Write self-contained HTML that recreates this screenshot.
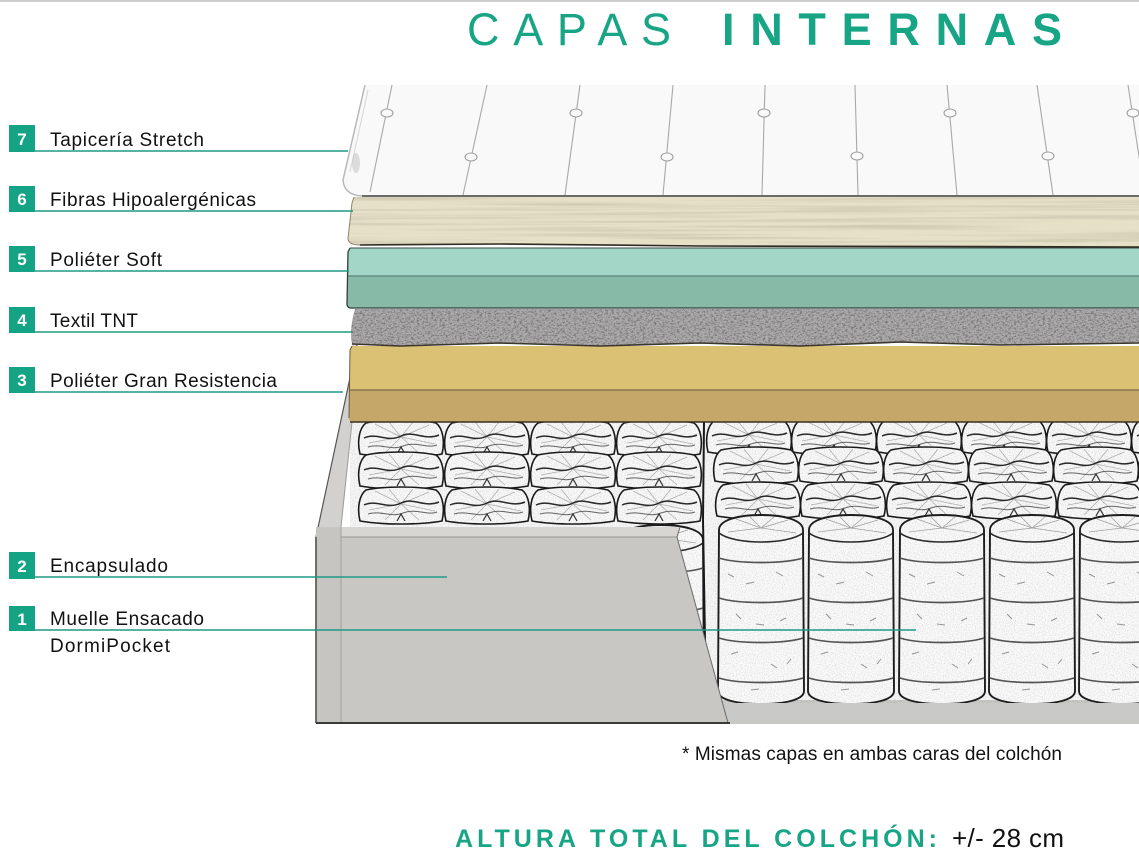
<!DOCTYPE html>
<html><head><meta charset="utf-8"><style>
html,body{margin:0;padding:0;background:#fff;}
svg{display:block;}
text{font-family:"Liberation Sans",sans-serif;}
</style></head><body>
<svg width="1139" height="854" viewBox="0 0 1139 854" xmlns="http://www.w3.org/2000/svg">
<defs>
  <filter id="nz" x="0" y="0" width="100%" height="100%">
    <feTurbulence type="fractalNoise" baseFrequency="0.9" numOctaves="2" seed="4"/>
    <feColorMatrix type="matrix" values="0 0 0 0 0  0 0 0 0 0  0 0 0 0 0  2.2 0 0 0 -0.95"/>
  </filter>
  <filter id="nz2" x="0" y="0" width="100%" height="100%">
    <feTurbulence type="fractalNoise" baseFrequency="0.35 0.6" numOctaves="3" seed="9"/>
    <feColorMatrix type="matrix" values="0 0 0 0 0.1  0 0 0 0 0.1  0 0 0 0 0.1  3 0 0 0 -1.35"/>
  </filter>
  <filter id="grain" x="0" y="0" width="100%" height="100%">
    <feTurbulence type="fractalNoise" baseFrequency="0.004 0.35" numOctaves="2" seed="2"/>
    <feColorMatrix type="matrix" values="0 0 0 0 0.55  0 0 0 0 0.5  0 0 0 0 0.38  2.4 0 0 0 -1.05"/>
  </filter>
  <clipPath id="cTex"><path d="M355,309 L1139,309 L1139,343 L1000,345 L900,342 L800,346 L700,343 L600,346 L500,343 L400,346 L352,344 Q349,330 355,309 Z"/></clipPath>
  <clipPath id="cBei"><path d="M354,197 L1139,197 L1139,247 L700,246 L500,244 L360,245 Q348,245 348,238 L352,203 Z"/></clipPath>
  <clipPath id="cSpr"><rect x="350" y="420" width="789" height="284"/></clipPath>

  <symbol id="pk" viewBox="0 0 88 38" width="88" height="38" overflow="visible">
    <path d="M3,35 C0,23 2,9 9,4 C28,0 60,0 79,4 C86,9 88,23 85,35 C62,39 26,39 3,35Z" fill="#fafafa" stroke="#1a1a1a" stroke-width="1.6"/>
    <path d="M44,18 L18,5 M44,18 L32,3 M44,18 L56,3 M44,18 L72,6 M44,18 L12,24 M44,18 L78,25 M44,18 L28,34 M44,18 L62,34" stroke="#b5b5b5" stroke-width="0.8" fill="none"/>
    <path d="M7,19 C20,13 30,24 44,17 C56,11 68,22 82,16" fill="none" stroke="#2a2a2a" stroke-width="1.5"/>
    <path d="M11,28 C24,24 34,32 46,27 C60,22 70,30 80,26" fill="none" stroke="#666" stroke-width="1"/>
    <path d="M40,35 L44,28 L48,35" fill="none" stroke="#333" stroke-width="1.2"/>
  </symbol>

  <symbol id="cy" viewBox="0 0 90 192" width="90" height="192" overflow="visible">
    <path d="M3,16 C3,6 22,1 45,1 C68,1 87,6 87,16 L88,177 C88,186 68,190 45,190 C22,190 2,186 2,177 Z" fill="#fbfbfb" stroke="#1e1e1e" stroke-width="1.9"/>
    <path d="M45,14 L20,5 M45,14 L34,3 M45,14 L58,3 M45,14 L72,6 M45,14 L12,18 M45,14 L80,19" stroke="#a5a5a5" stroke-width="0.8" fill="none"/>
    <path d="M3,19 C18,31 72,31 87,19" fill="none" stroke="#2a2a2a" stroke-width="1.6"/>
    <path d="M3,44 C22,50 68,50 87,44 M3,84 C22,90 68,90 87,84 M3,124 C22,130 68,130 87,124 M3,164 C22,170 68,170 87,164" fill="none" stroke="#555" stroke-width="1.7"/>
    <path d="M12,60 l6,3 M30,70 l8,-2 M60,58 l7,4 M20,100 l5,5 M70,104 l-6,3 M40,110 l8,1 M15,140 l7,-2 M55,150 l6,4 M75,145 l-4,5 M35,176 l8,-1" stroke="#999" stroke-width="1" fill="none"/>
  </symbol>
</defs>

<!-- top gray rule -->
<rect x="0" y="0" width="1139" height="2" fill="#cfcfcf"/>

<!-- Title -->
<text x="467" y="45" font-size="45" fill="#17a585" textLength="204" lengthAdjust="spacing">CAPAS</text>
<text x="722" y="45" font-size="45" font-weight="bold" fill="#17a585" textLength="340" lengthAdjust="spacing">INTERNAS</text>

<!-- ===== Springs area ===== -->
<rect x="350" y="420" width="789" height="284" fill="#f8f8f8"/>
<g clip-path="url(#cSpr)">
  <use href="#pk" x="357" y="419"/><use href="#pk" x="443" y="419"/><use href="#pk" x="529" y="419"/><use href="#pk" x="615" y="419"/>
  <use href="#pk" x="357" y="451"/><use href="#pk" x="443" y="451"/><use href="#pk" x="529" y="451"/><use href="#pk" x="615" y="451"/>
  <use href="#pk" x="357" y="486"/><use href="#pk" x="443" y="486"/><use href="#pk" x="529" y="486"/><use href="#pk" x="615" y="486"/>
  <use href="#pk" x="705" y="417"/><use href="#pk" x="790" y="417"/><use href="#pk" x="875" y="417"/><use href="#pk" x="960" y="417"/><use href="#pk" x="1045" y="417"/><use href="#pk" x="1130" y="417"/>
  <use href="#pk" x="712" y="446"/><use href="#pk" x="797" y="446"/><use href="#pk" x="882" y="446"/><use href="#pk" x="967" y="446"/><use href="#pk" x="1052" y="446"/><use href="#pk" x="1137" y="446"/>
  <use href="#pk" x="714" y="481"/><use href="#pk" x="799" y="481"/><use href="#pk" x="885" y="481"/><use href="#pk" x="970" y="481"/><use href="#pk" x="1056" y="481"/><use href="#pk" x="1141" y="481"/>
  <use href="#cy" x="616" y="524"/>
  <path d="M704,422 L703,520 L706,700" stroke="#1a1a1a" stroke-width="2" fill="none"/>
  <rect x="700" y="700" width="439" height="24" fill="#c9c9c7"/>
  <use href="#cy" x="716" y="514"/>
  <use href="#cy" x="806" y="514"/>
  <use href="#cy" x="897" y="514"/>
  <use href="#cy" x="987" y="514"/>
  <use href="#cy" x="1077" y="514"/>
  <rect x="350" y="420" width="789" height="284" filter="url(#nz)" opacity="0.15"/>
</g>
<rect x="700" y="703" width="439" height="21" fill="#c9c9c7"/>

<!-- ===== Frame / encapsulado ===== -->
<path d="M357,345 L316,537 L316,723 L341,723 L341,527 L352,422 L352,345 Z" fill="#d2d1cf"/>
<path d="M357,345 L316,537 L316,723" fill="none" stroke="#555" stroke-width="1.2"/>
<path d="M341,527 L352,422" fill="none" stroke="#9a9a9a" stroke-width="1"/>
<rect x="316" y="527" width="25" height="196" fill="#c6c5c2"/>
<path d="M316,537 L316,723" stroke="#444" stroke-width="1.4"/>
<path d="M341,527 L680,527 L677,537 L341,537 Z" fill="#d7d6d3"/>
<path d="M341,537 L677,537 L728,723 L341,723 Z" fill="#c8c7c3"/>
<path d="M341,537 L677,537" stroke="#a3a3a0" stroke-width="1.2"/>
<path d="M341,527 L341,723" stroke="#a9a9a6" stroke-width="1.2"/>
<path d="M680,527 L677,537 L728,723" stroke="#6a6a6a" stroke-width="1" fill="none"/>
<path d="M316,723 L730,723" stroke="#3a3a3a" stroke-width="2"/>

<!-- ===== Layer 3 yellow foam ===== -->
<path d="M352,346 L1139,346 L1139,422 L352,422 Q349,421 349,418 L350,350 Z" fill="#dbc174"/>
<path d="M350,390 L1139,390 L1139,422 L352,422 Q349,421 349,418 Z" fill="#c5a76a"/>
<path d="M350,390 L1139,390" stroke="#7d6a48" stroke-width="1.2"/>
<path d="M350,422 L1139,422" stroke="#3a3020" stroke-width="1.4"/>
<path d="M352,346 L350,350 L349,418" stroke="#6b5a3c" stroke-width="1" fill="none"/>

<!-- ===== Layer 4 textile ===== -->
<path d="M355,309 L1139,309 L1139,343 L1000,345 L900,342 L800,346 L700,343 L600,346 L500,343 L400,346 L352,344 Q349,330 355,309 Z" fill="#b3b0b2"/>
<g clip-path="url(#cTex)">
  <rect x="345" y="305" width="800" height="45" filter="url(#nz2)" opacity="0.6"/>
  <rect x="345" y="305" width="800" height="45" filter="url(#nz)" opacity="0.25"/>
</g>
<path d="M352,344 L400,346 L500,343 L600,346 L700,343 L800,346 L900,342 L1000,345 L1139,343" stroke="#3b3530" stroke-width="1.6" fill="none"/>

<!-- ===== Layer 5 green ===== -->
<path d="M350,248 L1139,248 L1139,308 L350,308 Q347,307 347,304 L348,252 Z" fill="#a3d6c6"/>
<path d="M348,276 L1139,276 L1139,308 L350,308 Q347,307 347,304 Z" fill="#87bba8"/>
<path d="M348,276 L1139,276" stroke="#5a827a" stroke-width="1.2"/>
<path d="M350,248 L348,252 L347,304 Q347,307 350,308 L1139,308" stroke="#2c3f3a" stroke-width="1.3" fill="none"/>
<path d="M350,248 L1139,248" stroke="#3a4a44" stroke-width="1"/>

<!-- ===== Layer 6 beige ===== -->
<path d="M354,197 L1139,197 L1139,247 L700,246 L500,244 L360,245 Q348,245 348,238 L352,203 Z" fill="#e6e0c7"/>
<g clip-path="url(#cBei)">
  <rect x="345" y="195" width="800" height="55" filter="url(#grain)" opacity="0.7"/>
</g>
<path d="M360,245 L500,244 L700,246 L1139,247" stroke="#2f2b22" stroke-width="1.6" fill="none"/>
<path d="M354,197 L352,203 L348,238 Q348,245 360,245" stroke="#8a8470" stroke-width="1" fill="none"/>

<!-- ===== Layer 7 white quilt ===== -->
<path d="M365,85 L1139,85 L1139,196 L362,196 Q344,195 343,180 Z" fill="#f9f9f9"/>
<path d="M365,85 L343,180 Q344,195 362,196" fill="none" stroke="#b8b8b8" stroke-width="1.5"/>
<path d="M368,90 L350,172" fill="none" stroke="#d6d6d6" stroke-width="1"/>
<ellipse cx="356" cy="163" rx="4" ry="10" fill="#bdbdbd" opacity="0.5"/>
<g stroke="#a8a8a8" stroke-width="1.1" fill="none">
  <path d="M392,85 L370,192"/>
  <path d="M487,85 L463,195"/>
  <path d="M580,85 L565,195"/>
  <path d="M673,85 L663,195"/>
  <path d="M765,85 L762,195"/>
  <path d="M855,85 L858,195"/>
  <path d="M947,85 L957,195"/>
  <path d="M1037,85 L1053,195"/>
  <path d="M1128,85 L1145,195"/>
</g>
<g fill="#f9f9f9" stroke="#9e9e9e" stroke-width="1.1">
  <ellipse cx="387" cy="113" rx="6" ry="4"/>
  <ellipse cx="576" cy="113" rx="6" ry="4"/>
  <ellipse cx="764" cy="113" rx="6" ry="4"/>
  <ellipse cx="950" cy="113" rx="6" ry="4"/>
  <ellipse cx="1133" cy="113" rx="6" ry="4"/>
  <ellipse cx="471" cy="157" rx="6" ry="4"/>
  <ellipse cx="667" cy="157" rx="6" ry="4"/>
  <ellipse cx="857" cy="156" rx="6" ry="4"/>
  <ellipse cx="1048" cy="156" rx="6" ry="4"/>
</g>
<path d="M362,196 L1139,196" stroke="#3a3a3a" stroke-width="1.6"/>

<!-- ===== Label leader lines ===== -->
<g stroke="#1f9a85" stroke-width="1.5">
  <path d="M35,151 L348,151"/>
  <path d="M35,211 L353,211"/>
  <path d="M35,271 L349,271"/>
  <path d="M35,332 L352,332"/>
  <path d="M35,392 L343,392"/>
  <path d="M35,577 L447,577"/>
  <path d="M35,630 L916,630"/>
</g>

<!-- ===== Number boxes ===== -->
<g fill="#14a384">
  <rect x="9" y="125" width="26" height="27"/>
  <rect x="9" y="186" width="26" height="26"/>
  <rect x="9" y="246" width="26" height="26"/>
  <rect x="9" y="307" width="26" height="26"/>
  <rect x="9" y="367" width="26" height="26"/>
  <rect x="9" y="552" width="26" height="27"/>
  <rect x="9" y="606" width="26" height="25"/>
</g>
<g fill="#ffffff" font-size="17" font-weight="bold" text-anchor="middle">
  <text x="22" y="145">7</text>
  <text x="22" y="205">6</text>
  <text x="22" y="265">5</text>
  <text x="22" y="326">4</text>
  <text x="22" y="386">3</text>
  <text x="22" y="572">2</text>
  <text x="22" y="625">1</text>
</g>

<!-- ===== Labels ===== -->
<g fill="#111" font-size="19">
  <text x="50" y="146" textLength="154" lengthAdjust="spacing">Tapicería Stretch</text>
  <text x="50" y="206" textLength="206" lengthAdjust="spacing">Fibras Hipoalergénicas</text>
  <text x="50" y="266" textLength="112" lengthAdjust="spacing">Poliéter Soft</text>
  <text x="50" y="327" textLength="88" lengthAdjust="spacing">Textil TNT</text>
  <text x="50" y="387" textLength="227" lengthAdjust="spacing">Poliéter Gran Resistencia</text>
  <text x="50" y="572" textLength="118" lengthAdjust="spacing">Encapsulado</text>
  <text x="50" y="625" textLength="154" lengthAdjust="spacing">Muelle Ensacado</text>
  <text x="50" y="652" textLength="120" lengthAdjust="spacing">DormiPocket</text>
</g>

<!-- ===== Footer text ===== -->
<text x="682" y="760" font-size="19" fill="#111" textLength="380" lengthAdjust="spacing">* Mismas capas en ambas caras del colchón</text>
<text x="455" y="847" font-size="25" font-weight="bold" fill="#17a585" textLength="482" lengthAdjust="spacing">ALTURA TOTAL DEL COLCHÓN:</text>
<text x="952" y="847" font-size="26" fill="#111" textLength="112" lengthAdjust="spacing">+/- 28 cm</text>
</svg>
</body></html>
